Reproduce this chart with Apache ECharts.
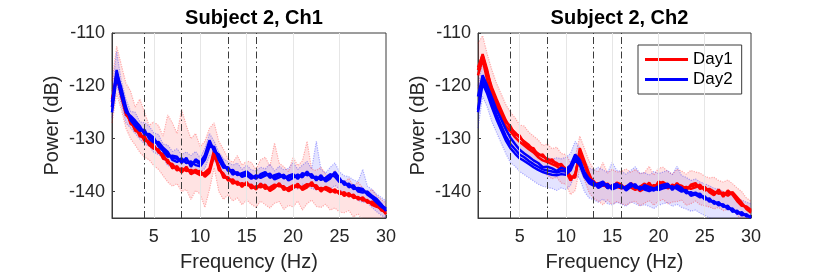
<!DOCTYPE html>
<html><head><meta charset="utf-8">
<script src="https://cdn.jsdelivr.net/npm/echarts@6/dist/echarts.min.js"></script>
<style>html,body{margin:0;padding:0;background:#fff}#c{width:830px;height:277px}</style>
</head><body><div id="c"></div>
<script>
// Frequency axis (Hz)
const freq = [0.5,1,1.5,2,2.5,3,3.5,4,4.5,5,5.5,6,6.5,7,7.5,8,8.5,9,9.5,10,
10.5,11,11.5,12,12.5,13,13.5,14,14.5,15,15.5,16,16.5,17,17.5,18,18.5,19,19.5,20,
20.5,21,21.5,22,22.5,23,23.5,24,24.5,25,25.5,26,26.5,27,27.5,28,28.5,29,29.5,30];
const xTicks = [5,10,15,20,25,30];
const yTicks = [-140,-130,-120,-110];
const bandEdges = [4,8,13,16];
const titles = ['Subject 2, Ch1','Subject 2, Ch2'];
const legendNames = ['Day1','Day2'];

// ---- Ch1, Day1 (red) ----
const ch1Day1A = [-123,-118,-121.5,-125,-126.8,-128,-129.2,-130,-130.8,-131.5,
-132.3,-133.3,-134.3,-135.2,-135.6,-136,-135.7,-136.3,-135.9,-136.5,
-136.8,-136,-132.6,-135.5,-137,-137.6,-138,-138.4,-138.7,-138.5,
-139,-139.3,-138.8,-139.1,-139.5,-139,-138.7,-139.3,-139.6,-139.1,
-138.8,-139.4,-138.9,-138.5,-139.2,-139.6,-139.3,-139.8,-139.9,-140.2,
-140.4,-140.6,-140.9,-141.2,-141.4,-141.8,-142.2,-142.7,-143.3,-144];
const ch1Day1B = [-122.5,-118.6,-121,-124.4,-127.2,-127.6,-129.6,-129.5,-131.2,-131.9,
-132,-133.8,-134,-135.6,-135.2,-136.4,-135.3,-136.7,-136.2,-136.1,
-137.2,-136.4,-133.2,-135.1,-137.4,-137.3,-138.5,-138.1,-139.1,-138.2,
-139.4,-139,-139.2,-138.7,-139.9,-139.3,-138.4,-139.7,-139.3,-138.8,
-139.2,-139.1,-138.6,-138.9,-138.8,-140,-139.1,-139.5,-140.2,-139.9,
-140.8,-140.3,-141.2,-141,-141.7,-141.6,-142.5,-142.9,-143.1,-144.3];
const ch1Day1C = [-124,-117.6,-122,-125.5,-126.4,-128.5,-128.8,-130.4,-130.5,-131.2,
-132.6,-132.9,-134.6,-134.8,-136,-135.6,-136.1,-135.9,-136.4,-136.9,
-136.4,-135.6,-132.1,-135.9,-136.6,-137.9,-137.7,-138.7,-138.4,-138.8,
-138.7,-139.6,-138.5,-139.5,-139.2,-138.7,-139,-139,-139.9,-139.4,
-138.5,-139.7,-139.2,-138.2,-139.5,-139.3,-139.6,-140.1,-139.6,-140.5,
-140.1,-140.9,-140.6,-141.5,-141.1,-142.1,-141.9,-142.4,-143.6,-143.8];
const ch1Day1TrialHi = [-119,-112.5,-116,-119.5,-121,-124,-122.5,-125,-127.5,-126.8,
-127.5,-129.5,-125.5,-127,-129,-124.5,-127.5,-130,-129,-131.5,
-130.5,-128,-127,-130.5,-132,-133.8,-134.5,-133.2,-135,-134.2,
-134.5,-135.8,-134,-133.5,-135.2,-130.8,-134.6,-135.3,-136.2,-133.5,
-135.1,-134.2,-130.5,-135.8,-136,-135.4,-136.7,-137.2,-136,-137.6,
-138.2,-137.5,-138.9,-138.2,-139.3,-140.1,-139.6,-140.8,-141.5,-142.2];
const ch1Day1TrialLo = [-127,-121.5,-124.5,-128,-130,-131.2,-132.6,-133.5,-134,-135.1,
-135.8,-137,-138.2,-139,-138.5,-140,-139.6,-141.5,-139.8,-140.5,
-143,-139.6,-135.5,-140,-141.5,-140.6,-141.8,-141.2,-142.5,-141.6,
-142.4,-143,-141.8,-142.5,-143.1,-142.2,-141.9,-143.4,-142.6,-142.9,
-141.8,-143.5,-142.3,-141.6,-142.8,-143,-142.4,-143.5,-143.1,-143.9,
-144,-143.6,-144.8,-144.2,-145.5,-145.2,-145.9,-146,-146.2,-146.5];

// ---- Ch1, Day2 (blue) ----
const ch1Day2A = [-124,-117,-121,-124.5,-126,-127,-128,-128.8,-129.5,-130.2,
-131,-132,-133,-133.6,-133.8,-134.2,-134,-134.8,-134.3,-134.8,
-133.5,-130.8,-132,-133.5,-135,-135.8,-136.3,-136.6,-136.8,-136.6,
-137.2,-137.3,-137,-136.6,-137,-137.3,-136.9,-137.2,-137.4,-137,
-137.3,-136.8,-136.6,-137,-137.6,-137.3,-137.8,-137.2,-136.6,-137.8,
-138.4,-138.8,-139.2,-139.6,-139.8,-140.3,-141,-141.8,-142.6,-143.2];
const ch1Day2B = [-123,-117.6,-120.4,-124,-126.5,-127.6,-128.5,-128.3,-130,-130.7,
-130.6,-131.7,-132.5,-134,-134.4,-133.7,-134.6,-134.3,-135,-135.2,
-134,-131.5,-131.5,-134,-135.5,-135.4,-136.8,-136.3,-137.2,-136.9,
-137.6,-136.9,-137.4,-137,-136.6,-137.7,-137.3,-136.8,-137.9,-137.4,
-136.8,-137.3,-136.2,-137.4,-137.2,-137.8,-137.4,-136.7,-137.2,-138.2,
-138.1,-139.2,-138.8,-140,-140.2,-140,-140.8,-141.4,-142.4,-143.7];
const ch1Day2C = [-125,-118.2,-121.8,-125,-125.7,-126.6,-127.6,-129.2,-129.1,-129.8,
-131.4,-132.3,-133.4,-133.2,-133.4,-134.6,-133.6,-135.3,-133.9,-134.5,
-133.1,-130.3,-132.4,-133,-134.7,-136.1,-135.9,-136.9,-136.5,-136.2,
-136.9,-137.6,-136.7,-136.3,-137.4,-136.9,-136.6,-137.5,-137,-136.7,
-137.6,-136.5,-136.9,-136.7,-137.9,-136.9,-138.1,-137.5,-136.3,-137.5,
-138.7,-138.5,-139.5,-139.3,-139.5,-140.6,-141.2,-142.1,-142.9,-143.4];
const ch1Day2TrialHi = [-121,-113.5,-119,-122.5,-124.8,-125,-126.8,-127,-127.6,-128.9,
-129.2,-131,-131.2,-132.4,-131.9,-133,-132.5,-133.2,-132.4,-133.6,
-131.8,-129,-130.5,-132.5,-133.8,-134.4,-135,-134.6,-135.8,-135,
-135.9,-136.1,-135.4,-135.7,-134.8,-136.1,-135.2,-135.9,-135.6,-134.5,
-135.8,-135,-134.3,-135.7,-130.5,-135.8,-136.5,-135.4,-134.6,-136.3,
-137,-137.2,-137.8,-138.1,-135.8,-139,-139.6,-140.5,-141.1,-141.8];
const ch1Day2TrialLo = [-126,-119.5,-123.5,-127,-128,-129,-130.1,-131,-131.4,-132.6,
-133,-133.6,-135.1,-135.3,-136,-136.1,-135.9,-136.8,-136.5,-136.4,
-135.6,-133.2,-134.1,-135.4,-137,-137.5,-138.4,-138.3,-138.6,-138.5,
-139.1,-139.2,-138.4,-138.8,-139.3,-139.4,-138.5,-139.1,-139.7,-139.2,
-139.5,-138.6,-138.9,-139.4,-139.7,-139.1,-139.8,-139.6,-138.8,-139.6,
-140.3,-140.9,-141,-141.7,-142,-142.1,-143,-143.8,-144.5,-145];

// ---- Ch2, Day1 (red) ----
const ch2Day1A = [-116.5,-114.2,-117.5,-120.3,-122.5,-124.5,-126.5,-128,-128.8,-129.8,
-130.5,-131.2,-132.2,-132.8,-133.4,-133.8,-134.3,-134.6,-135.2,-135.6,
-137.5,-137,-132.5,-134.5,-137,-138.3,-138.8,-138.2,-138.9,-139.2,
-138.6,-139,-139.4,-138.8,-139.3,-139.6,-139,-138.6,-139.3,-138.5,
-138.2,-138.9,-139.2,-138.7,-138.9,-139.5,-139,-138.8,-139.2,-139.4,
-139.8,-140.4,-139.9,-140.6,-140.2,-140.3,-141.5,-142.4,-143,-143.7];
const ch2Day1B = [-118,-115,-119,-122,-124,-126,-127.6,-128.6,-129.7,-130.6,
-131.3,-132,-132.6,-133.5,-134.1,-134.4,-134.8,-135.2,-135.8,-136.2,
-137.9,-136.6,-133.3,-135,-137.4,-138,-139.2,-138.6,-139.3,-138.8,
-139.1,-139.4,-139,-139.2,-139.7,-139.1,-138.5,-139.2,-138.8,-138.9,
-138.6,-139.4,-138.7,-139.1,-139.4,-139.1,-139.5,-139.2,-138.7,-139.8,
-139.5,-140,-140.4,-140.2,-140.8,-140.1,-141.1,-142.1,-143.3,-144];
const ch2Day1C = [-117,-114,-117,-121,-123.2,-125.4,-126.9,-127.6,-129.2,-129.4,
-130.9,-131.6,-131.8,-133.2,-133,-134.2,-133.9,-135,-134.8,-135.9,
-137.1,-137.4,-131.8,-134.2,-136.6,-138.6,-138.4,-138.9,-138.5,-139.5,
-138.3,-138.7,-139.7,-138.4,-139,-139.9,-139.4,-138.3,-139.6,-138.1,
-138.5,-138.6,-139.5,-138.4,-139.2,-139.8,-138.7,-138.4,-139.5,-139.1,
-140.1,-140.7,-139.6,-141,-139.8,-140.6,-141.8,-142.7,-142.8,-143.5];
const ch2Day1TrialHi = [-112,-110.5,-114,-117,-119.5,-121.5,-123.5,-125,-126,-127.4,
-127.6,-128.8,-129.5,-130.2,-131.3,-131,-131.9,-131.6,-132.8,-133,
-134.5,-133.5,-129.5,-131.8,-134.2,-135.8,-136.3,-134.5,-136.5,-135.8,
-136.3,-136.2,-135.7,-136.4,-135.8,-136.6,-136.4,-135.2,-136.9,-135.6,
-135.4,-136.2,-136.7,-135.8,-136.1,-136.7,-136,-136.3,-136.5,-137.1,
-137.4,-137.3,-137.9,-138.2,-137.8,-138.5,-139.3,-140,-141.2,-141.8];
const ch2Day1TrialLo = [-120.5,-118,-121.5,-124.5,-126.5,-128.4,-130,-131.3,-132.2,-133,
-133.8,-134.4,-135.3,-135.8,-136.4,-136.9,-137.6,-137.3,-138.4,-138.6,
-140.6,-139.8,-135.6,-137.8,-140.2,-141.3,-141.8,-142.5,-141.6,-142.5,
-141.9,-142.3,-142.6,-142.1,-141.8,-142.7,-142.2,-141.7,-142.6,-141.8,
-141.5,-142.3,-142,-141.9,-141.6,-142.6,-142.3,-141.8,-142.5,-142.7,
-142.9,-143.3,-143,-143.6,-143.4,-143.2,-144.5,-145.3,-146,-146.5];

// ---- Ch2, Day2 (blue) ----
const ch2Day2A = [-124.5,-118.8,-120.8,-123.2,-125.5,-127.5,-129.5,-131,-132,-133,
-133.5,-134.2,-134.8,-135.3,-135.8,-136,-136.2,-136.4,-136.1,-136.2,
-135.5,-133.5,-134.5,-136.8,-138,-138.6,-138.9,-138.4,-139,-139.2,
-138.8,-139.1,-139.4,-138.7,-139,-139.4,-139.2,-139.5,-139.8,-139.3,
-139,-138.8,-139.4,-139.1,-139.6,-140,-140.4,-140.2,-140.8,-141.2,
-141.6,-142,-142.3,-142.6,-143,-143.5,-143.9,-144.2,-144.5,-144.8];
const ch2Day2B = [-122,-118,-120,-122.2,-124.5,-126.3,-128.2,-129.8,-131,-132.1,
-132.8,-133.4,-134.1,-134.6,-135.4,-135.3,-135.6,-136.1,-135.5,-135.8,
-135,-133,-134,-136.3,-137.6,-138.2,-139.3,-138.8,-138.6,-139.6,
-139.2,-138.8,-139.8,-139.1,-138.6,-139.7,-138.8,-139.1,-139.4,-139.7,
-139.4,-139.2,-139,-139.5,-140,-139.7,-140.8,-140.5,-140.4,-141.5,
-141.3,-142.3,-142,-142.9,-142.7,-143.8,-143.6,-144.5,-144.3,-145];
const ch2Day2C = [-125,-119.5,-121.5,-124,-126.3,-128.3,-130.3,-131.8,-132.8,-133.7,
-134.2,-134.8,-135.4,-135.9,-136.3,-136.6,-136.8,-136.9,-136.7,-136.8,
-136,-134,-135,-137.2,-138.4,-138.9,-138.5,-138.1,-139.4,-138.8,
-138.5,-139.4,-139.1,-138.4,-139.3,-139.1,-139.6,-139.9,-139.5,-139,
-138.7,-138.5,-139.7,-138.8,-139.3,-140.3,-140.1,-140.6,-141.1,-140.9,
-141.9,-141.8,-142.6,-142.4,-143.3,-143.2,-144.2,-143.9,-144.7,-144.6];
const ch2Day2TrialHi = [-120,-115.5,-117.8,-120.5,-122.8,-124.6,-126.5,-128.2,-129.2,-130.4,
-131,-131.5,-132.2,-132.8,-133.2,-133.5,-133.9,-133.6,-133.8,-133.5,
-132.8,-130.5,-131.8,-134.2,-135.5,-136,-135.4,-135.9,-136.4,-134.5,
-136,-136.2,-136.7,-136,-135.3,-136.6,-136.4,-136.9,-136.2,-136.6,
-136.3,-136,-136.8,-135.2,-137,-137.3,-137.9,-137.6,-138.2,-138.5,
-138.9,-139.4,-139.5,-140,-140.3,-140.8,-141.4,-141.6,-142,-142.3];
const ch2Day2TrialLo = [-128,-122,-124,-126.8,-128.8,-130.8,-132.8,-134.5,-135.2,-136.2,
-136.8,-137.4,-138,-138.6,-139,-139.2,-139.4,-139.8,-139.3,-139.6,
-138.8,-136.6,-137.6,-140,-141.2,-141.6,-142,-141.4,-142.3,-142.5,
-142,-142.4,-142.8,-141.9,-142.3,-142.7,-142.5,-142.8,-143.2,-142.6,
-142.3,-142.1,-142.8,-142.4,-143,-143.3,-143.7,-143.5,-144.1,-144.5,
-145,-145.3,-145.6,-146,-146.3,-146.8,-147.2,-147.5,-147.8,-148];

// ---------------- chart construction ----------------
const FONT = '"Liberation Sans", Arial, Helvetica, sans-serif';
const TXT = '#262626';
const RED = '#ff0000', BLUE = '#0000ff';
const grids = [
  {left:112, top:33, width:274, height:186},
  {left:478, top:33, width:273, height:186}
];
const panels = [
  {day1:{thick:[ch1Day1A,ch1Day1B,ch1Day1C], trials:[ch1Day1TrialHi,ch1Day1TrialLo]},
   day2:{thick:[ch1Day2A,ch1Day2B,ch1Day2C], trials:[ch1Day2TrialHi,ch1Day2TrialLo]}},
  {day1:{thick:[ch2Day1A,ch2Day1B,ch2Day1C], trials:[ch2Day1TrialHi,ch2Day1TrialLo]},
   day2:{thick:[ch2Day2A,ch2Day2B,ch2Day2C], trials:[ch2Day2TrialHi,ch2Day2TrialLo]}}
];
const pts = arr => freq.map((f,i) => [f, arr[i]]);

const xAxes = [], yAxes = [], series = [], titleOpts = [];
grids.forEach((g, p) => {
  g.show = true; g.borderColor = '#3a3a3a'; g.borderWidth = 1; g.backgroundColor = '#fff';
  titleOpts.push({text: titles[p], left: g.left + g.width/2, top: 3, textAlign: 'center',
    textStyle: {fontFamily: FONT, fontSize: 20, fontWeight: 'bold', color: '#000'}});
  xAxes.push({gridIndex:p, type:'value', min:0.5, max:30,
    name:'Frequency (Hz)', nameLocation:'middle', nameGap:34,
    nameTextStyle:{fontFamily:FONT, fontSize:20, color:TXT},
    axisLine:{show:true, lineStyle:{color:'#3a3a3a', width:1}},
    axisTick:{show:true, inside:true, length:3, customValues:xTicks, lineStyle:{color:'#3a3a3a'}},
    axisLabel:{customValues:xTicks, margin:10, fontFamily:FONT, fontSize:18, color:TXT},
    splitLine:{show:false}});
  yAxes.push({gridIndex:p, type:'value', min:-145, max:-110,
    name:'Power (dB)', nameLocation:'middle', nameGap:50,
    nameTextStyle:{fontFamily:FONT, fontSize:20, color:TXT},
    axisLine:{show:true, lineStyle:{color:'#3a3a3a', width:1}},
    axisTick:{show:true, inside:true, length:3, customValues:yTicks, lineStyle:{color:'#3a3a3a'}},
    axisLabel:{customValues:yTicks, margin:7, fontFamily:FONT, fontSize:18, color:TXT},
    splitLine:{show:false}});
  // grid lines and band-edge lines
  const ml = [];
  xTicks.filter(v => v < 30).forEach(v => ml.push({xAxis:v, lineStyle:{color:'#e6e6e6', type:'solid', width:1}}));
  yTicks.filter(v => v > -110).forEach(v => ml.push({yAxis:v, lineStyle:{color:'#e6e6e6', type:'solid', width:1}}));
  bandEdges.forEach(v => ml.push({xAxis:v, lineStyle:{color:'#3c3c3c', type:[7,3,1.5,3], width:1}}));
  series.push({type:'line', name:'guides'+p, xAxisIndex:p, yAxisIndex:p, data:[], z:1,
    markLine:{silent:true, symbol:['none','none'], label:{show:false}, animation:false, data:ml}});
  const pd = panels[p];
  // trial spread haze: polygon between high and low trial traces
  [[pd.day1, 'rgba(255,0,0,0.11)', 'Day1'], [pd.day2, 'rgba(0,0,255,0.11)', 'Day2']].forEach(([d, fill, nm]) => {
    const hi = d.trials[0], lo = d.trials[1];
    series.push({type:'custom', name: nm + ' spread', xAxisIndex:p, yAxisIndex:p, coordinateSystem:'cartesian2d',
      clip:true, silent:true, z:2, data:[[freq[0], lo[0]]],
      renderItem: (params, api) => {
        const poly = [];
        for (let i = 0; i < freq.length; i++) poly.push(api.coord([freq[i], hi[i]]));
        for (let i = freq.length - 1; i >= 0; i--) poly.push(api.coord([freq[i], lo[i]]));
        const cs = params.coordSys;
        return {type:'polygon', shape:{points: echarts.graphic.clipPointsByRect(poly, {x:cs.x, y:cs.y, width:cs.width, height:cs.height})},
          style:{fill: fill}};
      }});
  });
  [[pd.day1, RED, 'Day1'], [pd.day2, BLUE, 'Day2']].forEach(([d, col, nm]) => {
    d.trials.forEach((arr, k) => series.push({type:'line', name: nm + ' trial ' + k, xAxisIndex:p, yAxisIndex:p,
      data: pts(arr), showSymbol:false, z:2, silent:true,
      lineStyle:{color:col, width:1.2, type:'dotted', opacity:0.3}}));
  });
  [[pd.day1, RED, 'Day1', 3], [pd.day2, BLUE, 'Day2', 4]].forEach(([d, col, nm, z]) => {
    d.thick.forEach(arr => series.push({type:'line', name:nm, xAxisIndex:p, yAxisIndex:p,
      data: pts(arr), showSymbol:false, z:z, silent:true, color:col,
      lineStyle:{color:col, width:2.5}}));
  });
});

const chart = echarts.init(document.getElementById('c'), null, {renderer:'canvas'});
chart.setOption({
  animation:false,
  backgroundColor:'#fff',
  title: titleOpts,
  grid: grids,
  xAxis: xAxes,
  yAxis: yAxes,
  legend: {data: legendNames, orient:'vertical', left:638, top:45, selectedMode:false,
    icon:'rect', itemWidth:43, itemHeight:3, itemGap:3,
    padding:[6,9,6,7], borderColor:'#3a3a3a', borderWidth:1, backgroundColor:'#fff',
    textStyle:{fontFamily:FONT, fontSize:17, color:'#000'}},
  series: series
});
</script></body></html>
